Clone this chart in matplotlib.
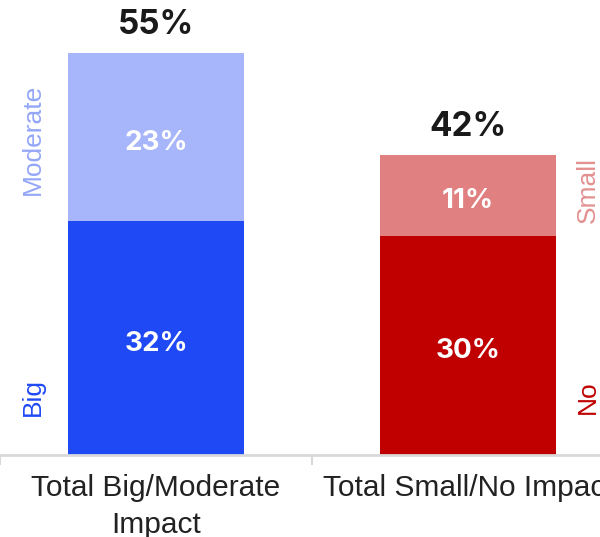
import matplotlib.pyplot as plt
from matplotlib.ticker import FixedLocator

categories = ['Total Big/Moderate\nImpact', 'Total Small/No Impact']
strong = [32, 30]      # Big / No
light = [23, 11]       # Moderate / Small
totals = ['55%', '42%']
strong_names = ['Big', 'No']
light_names = ['Moderate', 'Small']

strong_colors = ['#1F49F5', '#C00000']
light_colors = ['#A7B6FA', '#E08080']
light_text = ['#93A6F8', '#E39090']

plt.rcParams['font.family'] = ['Liberation Sans', 'DejaVu Sans']

fig = plt.figure(figsize=(6, 5.37), dpi=100)
ax = fig.add_axes([0, 82 / 537, 624 / 600, 455 / 537])

x = range(len(categories))
w = 0.567
ax.bar(x, strong, width=w, color=strong_colors)
ax.bar(x, light, width=w, bottom=strong, color=light_colors)

for i in x:
    ax.text(i, strong[i] / 2 - 0.8, f'{strong[i]}%', ha='center', va='center',
            color='white', fontsize=20, fontweight='bold', family='Inter')
    ax.text(i, strong[i] + light[i] / 2 - 0.8, f'{light[i]}%', ha='center', va='center',
            color='white', fontsize=20, fontweight='bold', family='Inter')
    ax.text(i, strong[i] + light[i] + 3.8, totals[i], ha='center', va='center',
            color='#1a1a1a', fontsize=24, fontweight='bold', family='Inter')

# side labels
side_x = [-0.395, 1.385]
ax.text(side_x[0], 7.9, strong_names[0], rotation=90, ha='center', va='center',
        color=strong_colors[0], fontsize=19)
ax.text(side_x[0], 43.1, light_names[0], rotation=90, ha='center', va='center',
        color=light_text[0], fontsize=19)
ax.text(side_x[1], 7.9, strong_names[1], rotation=90, ha='center', va='center',
        color=strong_colors[1], fontsize=19)
ax.text(side_x[1], 36.2, light_names[1], rotation=90, ha='center', va='center',
        color=light_text[1], fontsize=19)

ax.set_xlim(-0.5, 1.5)
ax.set_ylim(0, 62.2)
ax.set_xticks(list(x))
ax.set_xticklabels(categories, fontsize=21.5, color='#222222', linespacing=1.4)
ax.tick_params(axis='x', which='major', length=0, pad=14)
ax.xaxis.set_minor_locator(FixedLocator([-0.5, 0.5, 1.5]))
ax.tick_params(axis='x', which='minor', length=7, color='#d9d9d9', width=1.5)
ax.set_yticks([])
for s in ['top', 'right', 'left']:
    ax.spines[s].set_visible(False)
ax.spines['bottom'].set_color('#d9d9d9')
ax.spines['bottom'].set_linewidth(2)

fig.savefig('out.png', dpi=100)
